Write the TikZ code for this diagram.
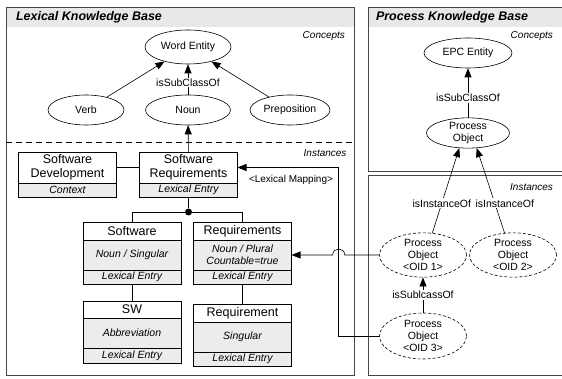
\documentclass[tikz,border=0pt]{standalone}
\usepackage{fontspec}
\setmainfont{Liberation Sans}
\usetikzlibrary{arrows.meta,positioning,shapes.geometric}

\begin{document}
\begin{tikzpicture}[x=1pt, y=-1pt,
    panel/.style={draw=gray!55!black, line width=0.9pt},
    bar/.style={fill=gray!18},
    heading/.style={anchor=west, font=\fontsize{12.5}{15}\selectfont\bfseries\itshape},
    region/.style={anchor=east, font=\fontsize{10}{12}\selectfont\itshape},
    concept/.style={ellipse, draw, line width=0.6pt, fill=white, inner sep=0pt, align=center,
      font=\fontsize{10.5}{12}\selectfont},
    inst/.style={concept, dash pattern=on 3pt off 2pt},
    entry/.style={rectangle, draw, line width=0.6pt, fill=white, minimum width=98pt, inner sep=0pt,
      outer sep=0pt, align=center, font=\fontsize{12.5}{14.5}\selectfont},
    part/.style={entry, fill=gray!15, font=\fontsize{10.5}{12}\selectfont\itshape},
    rel/.style={fill=white, inner sep=1pt, font=\fontsize{10.5}{12}\selectfont},
    arrow/.style={-{Triangle[length=9pt,width=7pt]}, line width=0.6pt},
    link/.style={line width=0.6pt},
    dot/.style={circle, fill=black, inner sep=0pt, minimum size=7pt}
  ]
  \useasboundingbox (0,0) rectangle (562,379);
  \clip (0,0) rectangle (562,379);

  % frames
  \fill[bar] (6,7) rectangle (354,27);
  \draw[panel] (6,7) rectangle (354,375);
  \fill[bar] (368,7) rectangle (570,27);
  \draw[panel] (368,7) rectangle (570,171);
  \draw[panel] (368,175) rectangle (570,375);
  \draw[dash pattern=on 6pt off 4pt, line width=0.6pt] (6,142) -- (354,142);

  \node[heading] (lkb) at (12.5,17) {Lexical Knowledge Base};
  \node[heading] (pkb) at (372.5,17) {Process Knowledge Base};
  \node[region] (lcon) at (348.5,36) {Concepts};
  \node[region] (linst) at (350,153) {Instances};
  \node[region] (pcon) at (556.5,36) {Concepts};
  \node[region] (pinst) at (556.5,187) {Instances};

  % lexical concepts
  \node[concept, minimum width=86pt, minimum height=34pt] (wordent) at (188,47) {Word Entity};
  \node[concept, minimum width=76pt, minimum height=30pt] (verb) at (86,110) {Verb};
  \node[concept, minimum width=85pt, minimum height=30pt] (noun) at (188,110) {Noun};
  \node[concept, minimum width=80pt, minimum height=30pt] (prep) at (290,110) {Preposition};

  \draw[arrow] (verb) -- (wordent);
  \draw[arrow] (noun) -- node[rel, pos=0.4] (subcl) {isSubClassOf} (wordent);
  \draw[arrow] (prep) -- (wordent);

  % lexical instances
  \node[entry, minimum height=31pt] (sdev) at (67.5,167.5) {Software\\Development};
  \node[part, minimum height=14pt, below=0pt of sdev] (sdev-c) {Context};
  \node[entry, minimum height=31pt] (sreq) at (188.5,167.5) {Software\\Requirements};
  \node[part, minimum height=14pt, below=0pt of sreq] (sreq-e) {Lexical Entry};

  \node[entry, minimum height=18pt] (soft) at (132,231) {Software};
  \node[part, minimum height=30pt, below=0pt of soft] (soft-m) {Noun / Singular};
  \node[part, minimum height=14pt, below=0pt of soft-m] (soft-e) {Lexical Entry};
  \node[entry, minimum height=18pt] (reqs) at (242.5,231) {Requirements};
  \node[part, minimum height=30pt, below=0pt of reqs] (reqs-m) {Noun / Plural\\Countable=true};
  \node[part, minimum height=14pt, below=0pt of reqs-m] (reqs-e) {Lexical Entry};

  \node[entry, minimum height=17pt] (sw) at (132,309.5) {SW};
  \node[part, minimum height=30pt, below=0pt of sw] (sw-m) {Abbreviation};
  \node[part, minimum height=15pt, below=0pt of sw-m] (sw-e) {Lexical Entry};
  \node[entry, minimum height=18pt] (req) at (242.5,313) {Requirement};
  \node[part, minimum height=30pt, below=0pt of req] (req-m) {Singular};
  \node[part, minimum height=14pt, below=0pt of req-m] (req-e) {Lexical Entry};

  \node[dot] (join) at (188.5,212) {};
  \draw[link] (sdev) -- (sreq);
  \draw[link] (sreq-e) -- (join);
  \draw[link] (join) -| (soft);
  \draw[link] (join) -| (reqs);
  \draw[link] (soft-e) -- (sw);
  \draw[link] (reqs-e) -- (req);
  \draw[arrow] (sreq) -- (noun);

  % process concepts
  \node[concept, minimum width=88pt, minimum height=30pt] (epc) at (468,53) {EPC Entity};
  \node[concept, minimum width=83pt, minimum height=30pt] (pobj) at (468,133) {Process\\Object};
  \draw[arrow] (pobj) -- node[rel, pos=0.4] (psub) {isSubClassOf} (epc);

  % process instances
  \node[inst, minimum width=87pt, minimum height=42pt] (oid1) at (423,255) {Process\\Object\\<OID 1>};
  \node[inst, minimum width=87pt, minimum height=42pt] (oid2) at (513,255) {Process\\Object\\<OID 2>};
  \node[inst, minimum width=87pt, minimum height=46pt] (oid3) at (423,336) {Process\\Object\\<OID 3>};

  \draw[arrow] (oid1.67) -- node[rel, pos=0.35] (inst1) {isInstanceOf} (pobj.240);
  \draw[arrow] (oid2.111) -- node[rel, pos=0.35, xshift=10pt] (inst2) {isInstanceOf} (pobj.300);
  \draw[arrow] (oid3) -- node[rel] (psub2) {isSublcassOf} (oid1);

  % mappings
  \draw[arrow] (oid3.west) -- ++(-40.5,0) |- (sreq.east);
  \node[font=\fontsize{10}{12}\selectfont] (lexmap) at (291,180) {<Lexical Mapping>};
  \draw[arrow] (oid1.west) -- ++(-34.5,0) .. controls +(0,-8) and +(0,-8) .. ++(-12,0) -- (reqs-m.east);
\end{tikzpicture}
\end{document}
